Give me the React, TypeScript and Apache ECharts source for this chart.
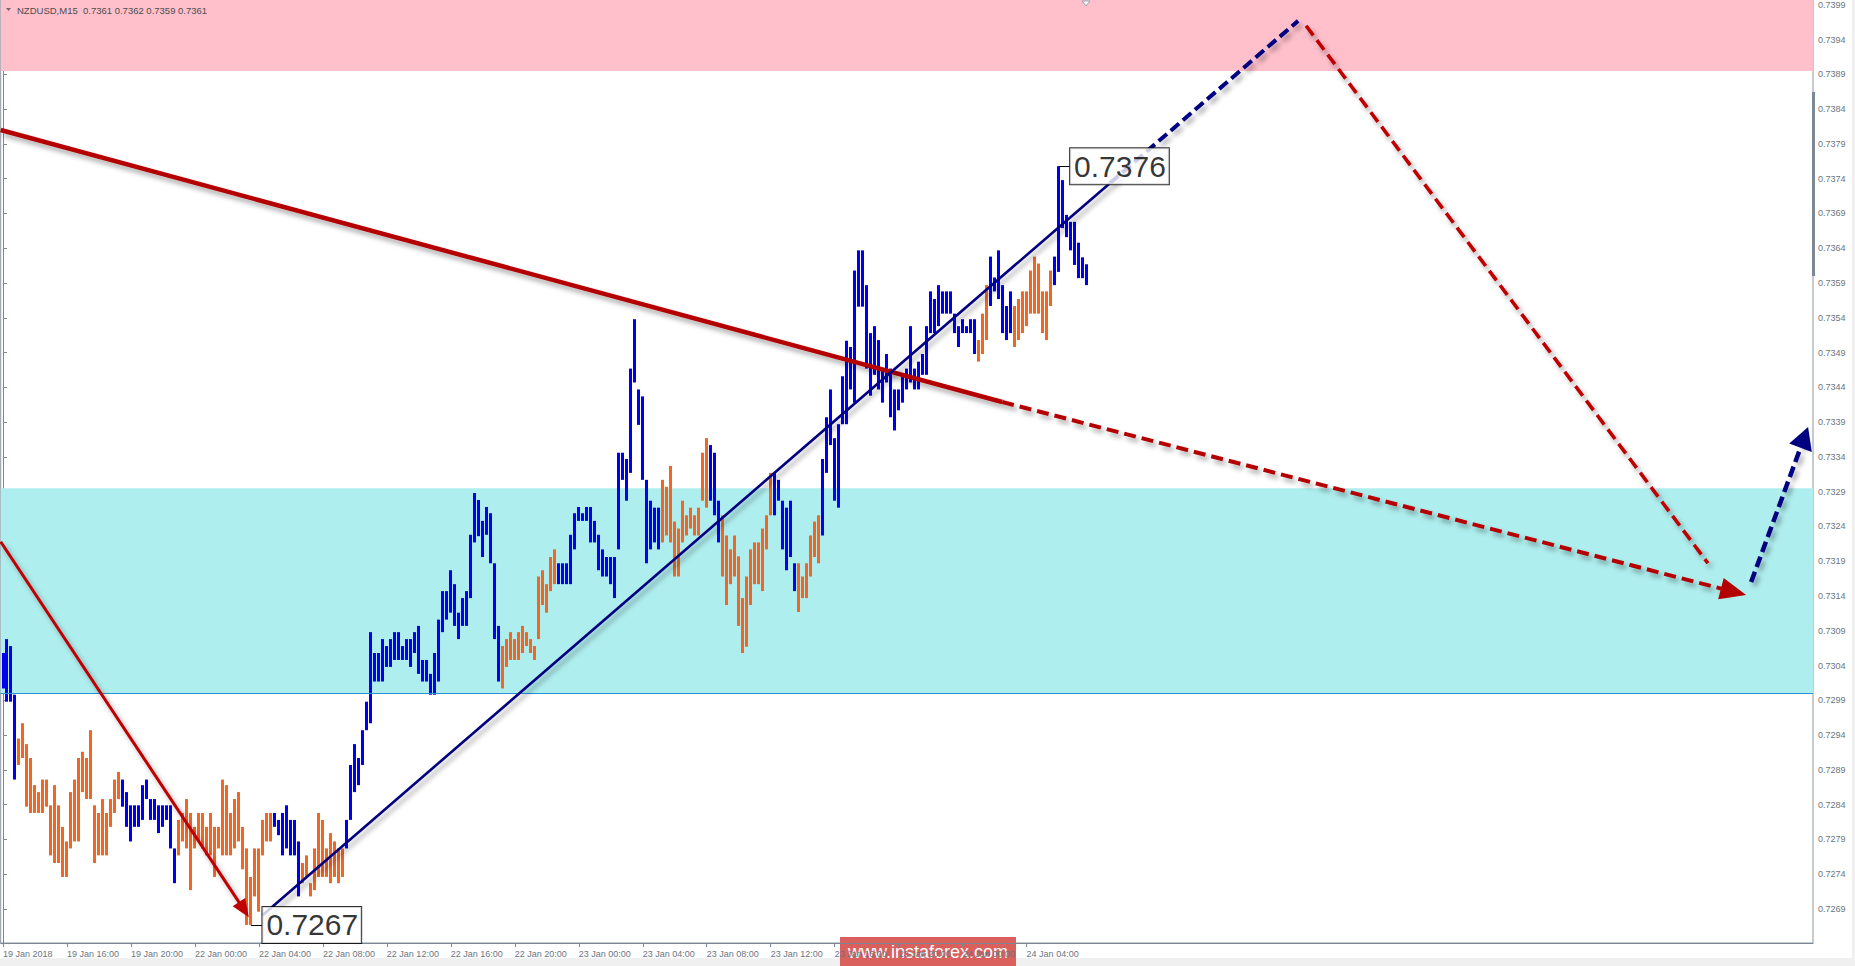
import React, { useEffect, useRef } from "react";
import * as echarts from "echarts";

// ---- bar data (15-minute bars, index 0 = 19 Jan 2018 12:00) ----
const highs = [
  0.73058, 0.73078, 0.73068, 0.72998, 0.72935, 0.72957, 0.72927, 0.72907, 0.72868, 0.72858,
  0.72876, 0.72876, 0.72839, 0.72868, 0.72839, 0.72808, 0.72787, 0.72858, 0.72876, 0.72907,
  0.72916, 0.72907, 0.72947, 0.72839, 0.72828, 0.72848, 0.72828, 0.72848, 0.72876, 0.72887,
  0.72876, 0.72858, 0.72839, 0.72839, 0.72839, 0.72868, 0.72876, 0.72848, 0.72848, 0.72839,
  0.72839, 0.72839, 0.72839, 0.72777, 0.72818, 0.72828, 0.72848, 0.72828, 0.72808, 0.72828,
  0.72828, 0.72808, 0.72828, 0.72808, 0.72808, 0.72876, 0.72868, 0.72828, 0.72848, 0.72858,
  0.72808, 0.72777, 0.72736, 0.72777, 0.72777, 0.72818, 0.72828, 0.72828, 0.72828, 0.72818,
  0.72828, 0.72839, 0.72818, 0.72818, 0.72787, 0.72756, 0.72767, 0.72727, 0.72777, 0.72828,
  0.72818, 0.72777, 0.72799, 0.72787, 0.72777, 0.72777, 0.72818, 0.72897, 0.72927, 0.72907,
  0.72947, 0.72988, 0.73088, 0.73058, 0.73058, 0.73078, 0.73068, 0.73078, 0.73088, 0.73088,
  0.73068, 0.73078, 0.73078, 0.73088, 0.73097, 0.73048, 0.73048, 0.73028, 0.73058, 0.73106,
  0.73147, 0.73147, 0.73177, 0.73157, 0.73116, 0.73137, 0.73147, 0.73228, 0.73288, 0.73278,
  0.73248, 0.73268, 0.73259, 0.73187, 0.73097, 0.73068, 0.73078, 0.73088, 0.73078, 0.73088,
  0.73097, 0.73088, 0.73078, 0.73068, 0.73168, 0.73177, 0.73157, 0.73196, 0.73207, 0.73187,
  0.73187, 0.73187, 0.73228, 0.73259, 0.73268, 0.73259, 0.73268, 0.73268, 0.73248, 0.73228,
  0.73207, 0.73196, 0.73196, 0.73196, 0.73346, 0.73346, 0.73337, 0.73467, 0.73538, 0.73437,
  0.73427, 0.73307, 0.73277, 0.73267, 0.73267, 0.73307, 0.73297, 0.73327, 0.73247, 0.73237,
  0.73277, 0.73256, 0.73267, 0.73256, 0.73267, 0.73346, 0.73367, 0.73357, 0.73346, 0.73277,
  0.73256, 0.73227, 0.73207, 0.73227, 0.73197, 0.73137, 0.73168, 0.73207, 0.73217, 0.73217,
  0.73237, 0.73256, 0.73317, 0.73317, 0.73307, 0.73277, 0.73267, 0.73277, 0.73187, 0.73187,
  0.73168, 0.73187, 0.73227, 0.73247, 0.73256, 0.73337, 0.73397, 0.73437, 0.73367, 0.73387,
  0.73456, 0.73507, 0.73498, 0.73608, 0.73637, 0.73637, 0.73587, 0.73518, 0.73528, 0.73508,
  0.73467, 0.73488, 0.73467, 0.73437, 0.73437, 0.73458, 0.73467, 0.73528, 0.73467, 0.73477,
  0.73488, 0.73528, 0.73578, 0.73567, 0.73587, 0.73578, 0.73578, 0.73578, 0.73546, 0.73528,
  0.73538, 0.73528, 0.73538, 0.73538, 0.73508, 0.73546, 0.73587, 0.73628, 0.73598, 0.73637,
  0.73587, 0.73557, 0.73578, 0.73557, 0.73567, 0.73578, 0.73578, 0.73608, 0.73628, 0.73618,
  0.73578, 0.73578, 0.73608, 0.73628, 0.73758, 0.73738, 0.73688, 0.73678, 0.73678, 0.73648,
  0.73627, 0.73617,
];

const lows = [
  0.73007, 0.72988, 0.72988, 0.72876, 0.72897, 0.72907, 0.72837, 0.72828, 0.72828, 0.72828,
  0.72828, 0.72837, 0.72767, 0.72756, 0.72756, 0.72736, 0.72736, 0.72777, 0.72787, 0.72787,
  0.72858, 0.72848, 0.72848, 0.72756, 0.72767, 0.72767, 0.72767, 0.72808, 0.72828, 0.72848,
  0.72837, 0.72808, 0.72787, 0.72808, 0.72808, 0.72818, 0.72848, 0.72818, 0.72818, 0.72799,
  0.72808, 0.72818, 0.72777, 0.72727, 0.72767, 0.72787, 0.72777, 0.72717, 0.72777, 0.72787,
  0.72777, 0.72767, 0.72767, 0.72736, 0.72777, 0.72767, 0.72767, 0.72767, 0.72777, 0.72787,
  0.72747, 0.72667, 0.72667, 0.72708, 0.72686, 0.72767, 0.72787, 0.72787, 0.72808, 0.72796,
  0.72767, 0.72777, 0.72767, 0.72767, 0.72708, 0.72727, 0.72736, 0.72708, 0.72717, 0.72736,
  0.72736, 0.72736, 0.72727, 0.72736, 0.72727, 0.72736, 0.72777, 0.72818, 0.72858, 0.72868,
  0.72897, 0.72947, 0.72957, 0.73017, 0.73017, 0.73017, 0.73038, 0.73038, 0.73048, 0.73048,
  0.73048, 0.73048, 0.73038, 0.73058, 0.73028, 0.73017, 0.73017, 0.72998, 0.72998, 0.73017,
  0.73088, 0.73106, 0.73116, 0.73097, 0.73078, 0.73097, 0.73097, 0.73137, 0.73217, 0.73226,
  0.73196, 0.73228, 0.73187, 0.73078, 0.73017, 0.73007, 0.73038, 0.73048, 0.73048, 0.73048,
  0.73058, 0.73068, 0.73058, 0.73048, 0.73078, 0.73127, 0.73116, 0.73147, 0.73157, 0.73157,
  0.73157, 0.73157, 0.73157, 0.73207, 0.73248, 0.73248, 0.73248, 0.73217, 0.73217, 0.73177,
  0.73168, 0.73168, 0.73157, 0.73137, 0.73207, 0.73307, 0.73277, 0.73317, 0.73447, 0.73386,
  0.73307, 0.73187, 0.73207, 0.73217, 0.73207, 0.73217, 0.73227, 0.73217, 0.73168, 0.73168,
  0.73217, 0.73227, 0.73237, 0.73227, 0.73227, 0.73277, 0.73267, 0.73277, 0.73256, 0.73217,
  0.73168, 0.73127, 0.73157, 0.73168, 0.73097, 0.73058, 0.73067, 0.73127, 0.73157, 0.73157,
  0.73147, 0.73207, 0.73256, 0.73256, 0.73277, 0.73207, 0.73177, 0.73196, 0.73147, 0.73117,
  0.73137, 0.73137, 0.73168, 0.73196, 0.73187, 0.73227, 0.73317, 0.73357, 0.73277, 0.73267,
  0.73387, 0.73387, 0.73437, 0.73418, 0.73556, 0.73556, 0.73467, 0.73428, 0.73458, 0.73437,
  0.73418, 0.73447, 0.73397, 0.73378, 0.73407, 0.73418, 0.73437, 0.73447, 0.73437, 0.73437,
  0.73458, 0.73458, 0.73518, 0.73518, 0.73528, 0.73546, 0.73546, 0.73546, 0.73518, 0.73498,
  0.73518, 0.73518, 0.73518, 0.73488, 0.73477, 0.73488, 0.73508, 0.73557, 0.73578, 0.73567,
  0.73518, 0.73508, 0.73518, 0.73498, 0.73508, 0.73518, 0.73528, 0.73546, 0.73546, 0.73546,
  0.73518, 0.73508, 0.73557, 0.73587, 0.73606, 0.73669, 0.73656, 0.73637, 0.73616, 0.73597,
  0.73597, 0.73587,
];

// wave segments: [firstBar, lastBar, direction] (1 = up wave / blue, -1 = down wave / orange)
const waves = [
  [0, 3, 1], [4, 29, -1], [30, 43, 1], [44, 67, -1], [68, 74, 1], [75, 85, -1],
  [86, 124, 1], [125, 138, -1], [139, 164, 1], [165, 176, -1], [177, 179, 1],
  [180, 192, -1], [193, 198, 1], [199, 204, -1], [205, 243, 1], [244, 246, -1],
  [247, 252, 1], [253, 262, -1], [263, 271, 1],
];

// ---- axes ----
const tickBars = [0, 16, 32, 48, 64, 80, 96, 112, 128, 144, 160, 176, 192, 208, 224, 240, 256];
const tickLabels = [
  "19 Jan 2018", "19 Jan 16:00", "19 Jan 20:00", "22 Jan 00:00", "22 Jan 04:00",
  "22 Jan 08:00", "22 Jan 12:00", "22 Jan 16:00", "22 Jan 20:00", "23 Jan 00:00",
  "23 Jan 04:00", "23 Jan 08:00", "23 Jan 12:00", "23 Jan 16:00", "23 Jan 20:00",
  "24 Jan 00:00", "24 Jan 04:00",
];
const priceTicks = [
  0.7269, 0.7274, 0.7279, 0.7284, 0.7289, 0.7294, 0.7299, 0.7304, 0.7309, 0.7314,
  0.7319, 0.7324, 0.7329, 0.7334, 0.7339, 0.7344, 0.7349, 0.7354, 0.7359, 0.7364,
  0.7369, 0.7374, 0.7379, 0.7384, 0.7389, 0.7394, 0.7399,
];
const priceMin = 0.72641;
const priceMax = 0.73997;
const barMin = -0.575;
const barMax = 452.675;

// ---- zones & annotations ----
const resistanceZone = [0.73895, 0.73997];
const supportZone = [0.73, 0.73295];
const lastPrice = 0.7361;
const titleText = "NZDUSD,M15  0.7361 0.7362 0.7359 0.7361";
const priceMarks = [
  { bar: 264, price: 0.73758, text: "0.7376" },
  { bar: 62, price: 0.72667, text: "0.7267" },
];

// trend / forecast lines in [bar, price]
const redTrendSolid = [[-0.575, 0.7381], [249.9, 0.73419]];
const redTrendDashed = [[249.9, 0.73419], [432.8, 0.73146]];
const redThinArrow = [[-0.575, 0.73218], [60.25, 0.72689]];
const navySolid = [[64.9, 0.72681], [276.9, 0.73734]];
const navyDashed = [[276.9, 0.73734], [323.9, 0.73967]];
const redDashedDown = [[325.9, 0.7396], [426.4, 0.73187]];
const navyDashedUp = [[437.2, 0.7316], [450.5, 0.73368]];

const BLUE = "#0000f0";
const ORANGE = "#f26522";
const AXIS = "#7c8794";
const LABEL = "#6b7580";
const FONT = "Liberation Sans, Arial, sans-serif";

function dirOf(i: number) {
  for (const w of waves) if (i >= w[0] && i <= w[1]) return w[2];
  return 1;
}

const shadow = {
  shadowColor: "rgba(0,0,0,0.35)",
  shadowBlur: 5,
  shadowOffsetX: 3,
  shadowOffsetY: 4,
};

function seg(pts: number[][], style: any, arrow?: number[]) {
  return [
    { coord: pts[0], symbol: "none", lineStyle: { ...shadow, ...style } },
    arrow
      ? { coord: pts[1], symbol: "triangle", symbolSize: arrow }
      : { coord: pts[1], symbol: "none" },
  ];
}

export default function App() {
  const ref = useRef<HTMLDivElement>(null);
  useEffect(() => {
    if (!ref.current) return;
    const chart = echarts.init(ref.current, null, { renderer: "svg" });
    const barData = highs.map((h, i) => [i, lows[i], h, dirOf(i)]);

    const option: any = {
      animation: false,
      backgroundColor: "#ffffff",
      grid: {
        left: 0, top: 0, right: 42, bottom: 23,
        show: true, borderColor: "#8d96a0", borderWidth: 1, backgroundColor: "transparent",
      },
      xAxis: {
        type: "value",
        min: barMin,
        max: barMax,
        position: "bottom",
        axisLine: { show: true, onZero: false, lineStyle: { color: AXIS } },
        axisTick: { show: true, customValues: tickBars, length: 4, lineStyle: { color: AXIS } },
        axisLabel: {
          customValues: tickBars,
          formatter: (v: number) => {
            const k = tickBars.indexOf(Math.round(v));
            return k >= 0 ? tickLabels[k] : "";
          },
          align: "left",
          margin: 6,
          fontSize: 9,
          color: LABEL,
          fontFamily: FONT,
        },
        splitLine: { show: false },
      },
      yAxis: {
        type: "value",
        position: "right",
        min: priceMin,
        max: priceMax,
        axisLine: { show: true, lineStyle: { color: AXIS } },
        axisTick: { show: true, customValues: priceTicks, length: 4, lineStyle: { color: AXIS } },
        axisLabel: {
          customValues: priceTicks,
          formatter: (v: number) => v.toFixed(4),
          margin: 5,
          fontSize: 9,
          color: LABEL,
          fontFamily: FONT,
        },
        splitLine: { show: false },
      },
      graphic: [
        { type: "rect", shape: { x: 0, y: 958, width: 1855, height: 8 }, style: { fill: "#f0f0f0" }, silent: true },
        { type: "rect", shape: { x: 1852, y: 0, width: 3, height: 966 }, style: { fill: "#f0f0f0" }, silent: true },
        { type: "rect", shape: { x: 1812, y: 92, width: 3, height: 184 }, style: { fill: "#7d8896" }, z: 20, silent: true },
        { type: "polygon", shape: { points: [[6, 8], [11, 8], [8.5, 11]] }, style: { fill: "#6a6a6a" }, z: 20, silent: true },
        { type: "polygon", shape: { points: [[1082, 1], [1090, 1], [1086, 6]] }, style: { fill: "#ffffff", stroke: "#9aa0a8", lineWidth: 1 }, z: 20, silent: true },
        {
          type: "text", x: 17, y: 5, z: 20, silent: true,
          style: { text: titleText, fontSize: 9.5, fontFamily: FONT, fill: "#4d4d4d" },
        },
        {
          type: "group", z: 30, silent: true,
          children: [
            { type: "rect", shape: { x: 840, y: 937, width: 176, height: 29 }, style: { fill: "#d9605d" } },
            {
              type: "text", x: 928, y: 952,
              style: { text: "www.instaforex.com", fontSize: 18, fontFamily: FONT, fill: "#ffffff", align: "center", verticalAlign: "middle" },
            },
          ],
        },
      ],
      series: [
        {
          type: "line",
          data: [],
          z: 1,
          silent: true,
          markArea: {
            silent: true,
            data: [
              [{ yAxis: resistanceZone[0], itemStyle: { color: "#ffc0cb" } }, { yAxis: resistanceZone[1] }],
              [{ yAxis: supportZone[0], itemStyle: { color: "#afeeee" } }, { yAxis: supportZone[1] }],
            ],
          },
          markLine: {
            silent: true,
            symbol: ["none", "none"],
            label: { show: false },
            data: [
              { yAxis: resistanceZone[0], lineStyle: { color: "#d40000", width: 1, type: "solid" } },
              { yAxis: supportZone[0], lineStyle: { color: "#2b8fd9", width: 1, type: "solid" } },
              { yAxis: supportZone[1], lineStyle: { color: "#2b8fd9", width: 1, type: "solid" } },
              {
                yAxis: lastPrice,
                lineStyle: { width: 0, opacity: 0 },
                label: {
                  show: true, position: "end", distance: 1, offset: [0, 2],
                  formatter: lastPrice.toFixed(4), color: "#ffffff", backgroundColor: "#6b7785",
                  padding: [0, 6, 0, 5], fontSize: 9, lineHeight: 10, fontFamily: FONT,
                },
              },
            ],
          },
        },
        {
          type: "custom",
          z: 2,
          silent: true,
          clip: true,
          encode: { x: 0, y: [1, 2] },
          data: barData,
          renderItem: (params: any, api: any) => {
            const x = api.value(0);
            const lo = api.coord([x, api.value(1)]);
            const hi = api.coord([x, api.value(2)]);
            const up = api.value(3) > 0;
            return {
              type: "rect",
              shape: { x: Math.round(lo[0] - 1.5), y: hi[1], width: 3, height: Math.max(lo[1] - hi[1], 1) },
              style: { fill: up ? BLUE : ORANGE },
            };
          },
        },
        {
          type: "line",
          data: [],
          z: 5,
          silent: true,
          markLine: {
            silent: true,
            symbol: ["none", "none"],
            label: { show: false },
            data: [
              seg(redTrendSolid, { color: "#b40000", width: 4.5, type: "solid" }),
              seg(redTrendDashed, { color: "#b40000", width: 4, type: [12, 6] }, [22, 26]),
              seg(redThinArrow, { color: "#c00000", width: 3, type: "solid" }, [15, 18]),
              seg(navySolid, { color: "#000080", width: 2.6, type: "solid" }),
              seg(navyDashed, { color: "#000080", width: 4, type: [11, 5] }),
              seg(redDashedDown, { color: "#c00000", width: 3.6, type: [12, 6] }),
              seg(navyDashedUp, { color: "#000080", width: 4.5, type: [11, 5] }, [24, 22]),
              ...priceMarks.map((m) => [
                { coord: [m.bar, m.price], symbol: "none", lineStyle: { color: "#000000", width: 1, type: "solid" } },
                { coord: [m.bar + 2.75, m.price], symbol: "none" },
              ]),
            ],
          },
        },
        {
          type: "scatter",
          z: 10,
          silent: true,
          symbolSize: 1,
          itemStyle: { color: "rgba(0,0,0,0)" },
          data: priceMarks.map((m) => ({ value: [m.bar, m.price], label: { formatter: m.text } })),
          label: {
            show: true,
            position: "right",
            distance: 11,
            fontSize: 30,
            lineHeight: 34,
            fontFamily: FONT,
            color: "#000000",
            backgroundColor: "#ffffff",
            borderColor: "#000000",
            borderWidth: 1,
            padding: [2, 3, 0, 4],
          },
        },
      ],
    };
    chart.setOption(option);
    return () => chart.dispose();
  }, []);
  return (
    <div
      ref={ref}
      style={{ position: "fixed", left: 0, top: 0, width: 1855, height: 966, background: "#ffffff" }}
    />
  );
}
